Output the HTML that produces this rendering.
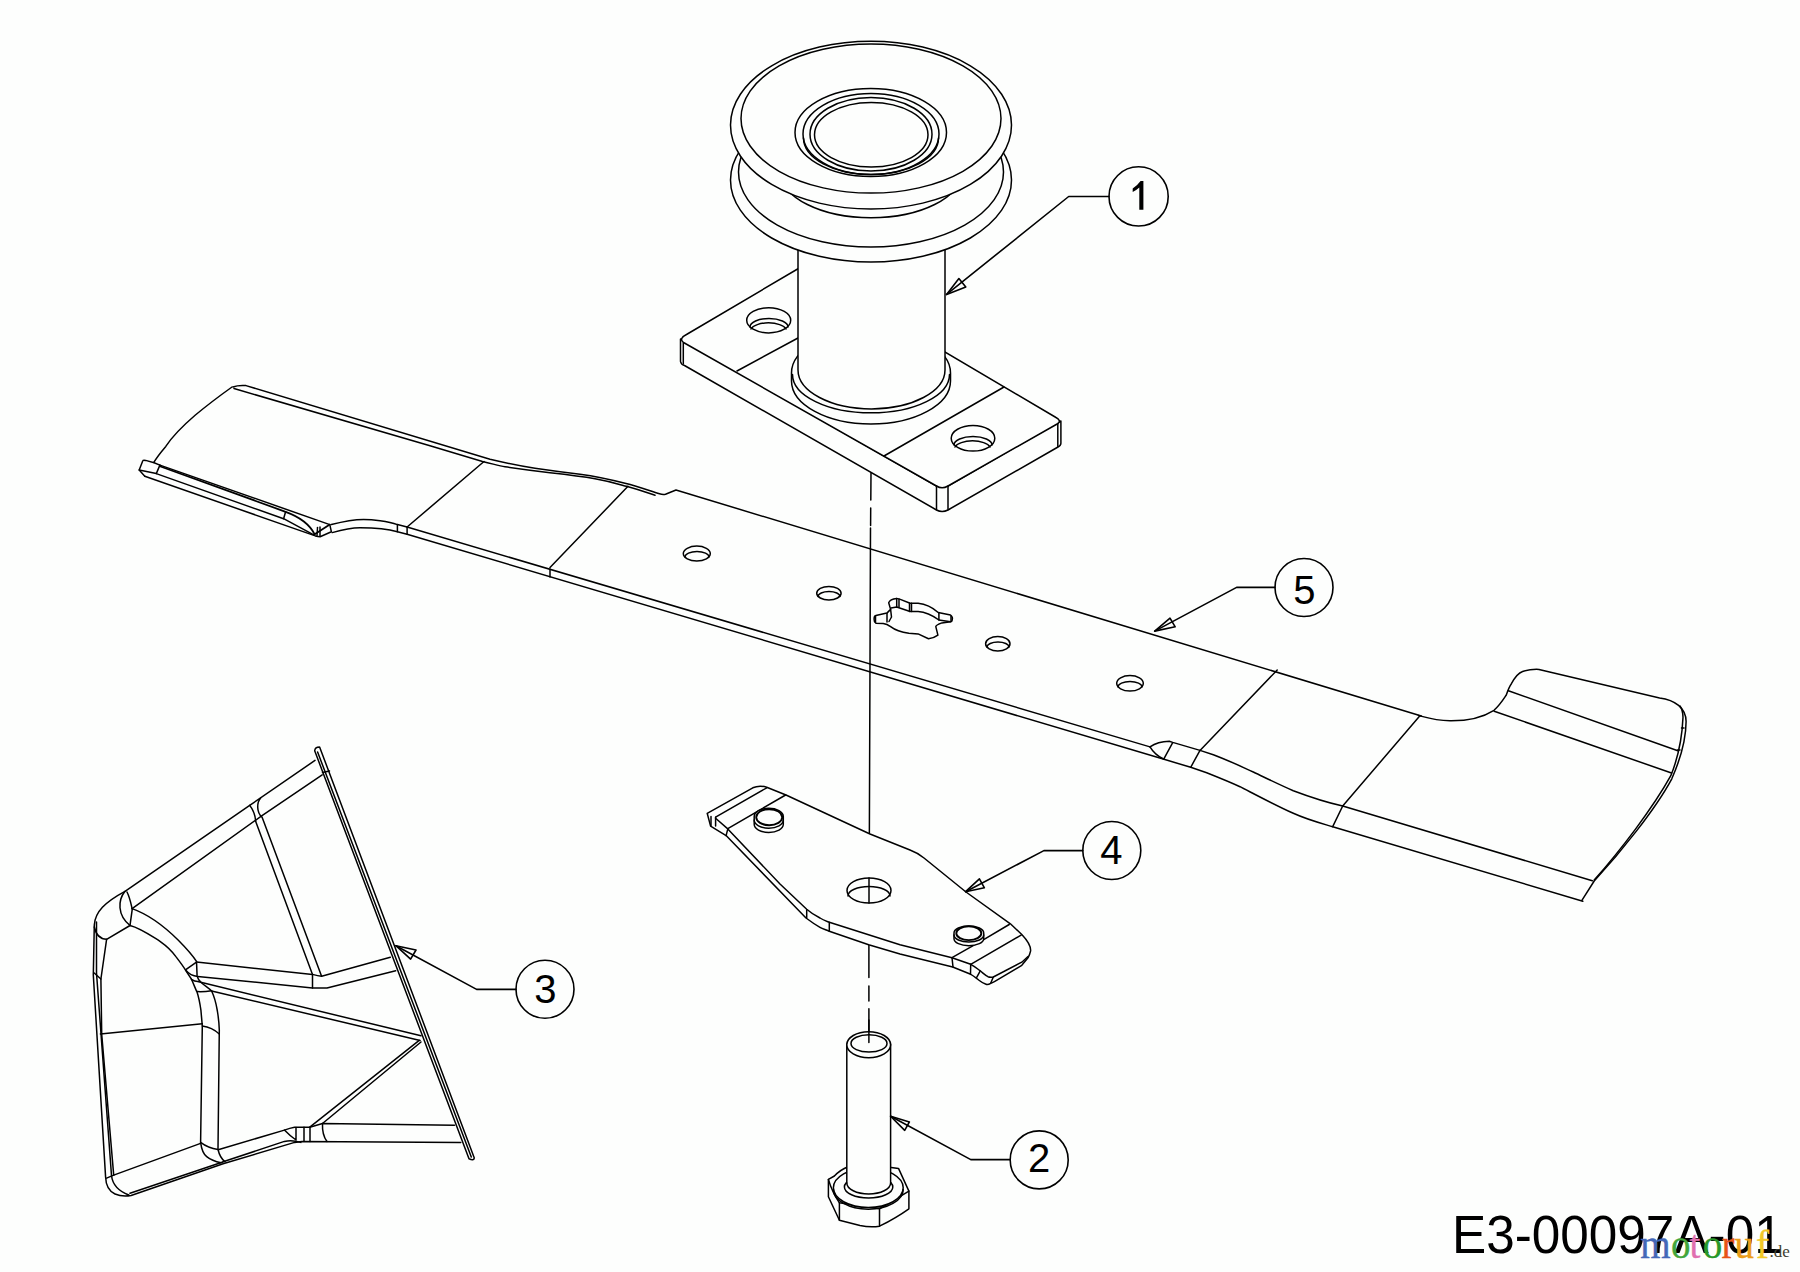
<!DOCTYPE html>
<html><head><meta charset="utf-8">
<style>
html,body{margin:0;padding:0;background:#fdfefd;width:1800px;height:1272px;overflow:hidden}
svg{position:absolute;left:0;top:0}
.t{font-family:"Liberation Sans",sans-serif;fill:#000}
.w{font-family:"Liberation Serif",serif}
</style></head><body>
<svg width="1800" height="1272" viewBox="0 0 1800 1272">
<g fill="none" stroke="#000" stroke-width="1.5" stroke-linejoin="round" stroke-linecap="round">


<!-- ============ PART 5: BLADE ============ -->
<g id="blade">
<!-- left end curve -->
<path d="M232,387 C218,397 205,407 195.1,415.3 C185,424 172,437 165.8,446.4 C161,452 157,457 153.8,462.4"/>
<!-- back edge (top line) -->
<path d="M233,387 Q238,385 246,385.6 L490,459.3 C510,464 520,466 535,468.3 C550,470.5 565,472.5 580,474.3 C600,477 612,480 625,483.3 C640,487 650,491 659.5,493.8 Q663,495 665.5,494.2 L676,490 L1421.3,716"/>
<!-- back edge second line -->
<path d="M234,388.5 L430,445.8 L482.5,461.5 C495,464.5 500,466 505,466.8 C520,469 535,471 550,472.8 C570,475 585,477 595,478.8 C610,481.5 618,484 626.5,486.3 C640,490 648,493 655,495.3"/>
<!-- tip -->
<path d="M159.9,465.1 L154.1,462.7 L145.7,460.4 Q143,460 142.8,460.7 L139.2,470 L144.8,476.2"/>
<path d="M139.2,470 L156.3,473.6 L283.6,518.7 L314.7,535.3"/>
<line x1="159.9" y1="465.1" x2="156.3" y2="473.6"/>
<!-- lip -->
<path d="M159.9,465.1 L329.8,524.6 L331.4,531.8 L320.1,536.7 Q318,536.5 315.3,535.9 L144.8,476.2"/>
<path d="M160.5,466.5 L285.6,511.8 C300,517 310,525 314.7,534.3 L329.8,524.6" stroke-width="1.8"/>
<line x1="285.6" y1="511.8" x2="283.6" y2="518.7"/>
<line x1="317.5" y1="527.5" x2="317" y2="535.5"/>
<line x1="320" y1="527" x2="320" y2="536"/>
<!-- notch -->
<path d="M331.4,524.6 C345,521 355,519.5 363.6,519.5 C372,519.5 388,521 397.4,524.6 L407.1,527 L1150,746.9"/>
<path d="M332.2,532.6 C345,529 352,527.8 360,527.8 C370,527.8 388,529 397.4,531.8 L407.1,534.2 L1164,759.3"/>
<line x1="397.4" y1="524.6" x2="397.4" y2="531.8"/>
<line x1="407.1" y1="527" x2="407.1" y2="534.2"/>
<!-- bend lines -->
<line x1="407.1" y1="527" x2="484" y2="461.5"/>
<line x1="550" y1="567.5" x2="628" y2="486.3"/>
<line x1="550" y1="569" x2="550" y2="577"/>
<line x1="1200" y1="750.4" x2="1277.2" y2="670"/>
<line x1="1342.7" y1="806" x2="1419.7" y2="716"/>
<!-- holes -->
<ellipse cx="696.8" cy="553.6" rx="13.5" ry="7.5"/>
<path d="M685,557 A12,5.5 0 0 1 709,557"/>
<ellipse cx="828.9" cy="593.2" rx="12.2" ry="6.8"/>
<path d="M818,596.5 A11,5 0 0 1 840,596.5"/>
<ellipse cx="997.8" cy="643.8" rx="12.2" ry="7.2"/>
<path d="M987,647 A11,5 0 0 1 1009,647"/>
<ellipse cx="1130" cy="683.3" rx="13.3" ry="7.8"/>
<path d="M1118,687 A12,5.5 0 0 1 1142,687"/>
<!-- star key hole -->
<path d="M874.1,619.2 Q874,616 875.9,615.6 L886.9,613.1 L890.6,609.4 L888.7,602.7 Q890,599 896.7,598.4 L900.3,599.4 L910.1,603.3 L918.1,603.3 C925,604 932,607 938.2,612.5 L950.5,615 Q953,617 952.3,619.2 Q952,622 950.5,621.7 L941.9,622.9 Q936,625 935.8,626.6 L937.9,635.1 Q934,638 928.5,638.8 L918.1,633.9 L908.9,633.3 C900,632 895,630 890.6,626.6 Q887,624 883.2,623.5 L875.9,623.2 Q874,622 874.1,619.2 Z"/>
<path d="M890.6,609.4 L891.5,617 L889,621.5 M891,608 L896.7,607 L910.1,611.5 L918.1,611.5 C925,612 932,615 938.9,620 L950.5,621.7"/>
<path d="M896.7,598.4 L896.7,607 M899,599 L899,607 M909.5,603.3 L909.5,611.5 M911.5,603.3 L911.5,611.5 M938.9,612.5 L938.9,620 M951,616 L951,621 M875.5,616 L875.5,622.5 M887,613.5 L887,622"/>
<!-- front edge after notch -->
<path d="M1150,746.9 C1155,743.5 1162,741.5 1169.3,741.3 L1172.7,742.4 L1200,750.4 L1213.3,754.7 C1230,761 1240,766 1253.3,772 C1268,779 1280,785 1293.3,790.7 C1310,797 1325,802 1342.7,806 L1592.3,880.7"/>
<path d="M1150,746.9 C1153,752 1157,756 1164,759.3"/>
<line x1="1172.7" y1="742.7" x2="1164" y2="758.7"/>
<path d="M1164,759.3 L1190.7,767.3 L1206.7,772.7 C1220,778 1230,782 1240,786.7 C1260,797 1275,805 1293.3,813.3 C1308,820 1320,823 1332.7,826.7 L1582.8,901.2"/>
<line x1="1200" y1="750.4" x2="1190.7" y2="767.3"/>
<line x1="1342.7" y1="806" x2="1332.7" y2="826.7"/>
<!-- right wing -->
<path d="M1418.4,715.4 C1428,718 1435,720.5 1450,720.8 C1470,721 1485,716 1494,710.3 C1500,705 1503,700 1506.3,695 C1508,690 1509,687 1511.4,683.7 C1515,677 1518,673 1522.6,671.5 Q1530,669 1539,669.4 L1659.6,698 C1675,700 1686,708 1686.1,721.5 C1686,740 1680,760 1671.8,778.8 C1655,810 1620,853 1594.2,881 L1581.9,900.3"/>
<path d="M1594.2,880 C1620,851 1653,808 1670.8,775.7 C1678,758 1682,740 1683,717.4 C1683,712 1682,709 1680,706"/>
<line x1="1684" y1="728" x2="1681.5" y2="728"/>
<line x1="1680" y1="750" x2="1677.5" y2="750"/>
<line x1="1494.2" y1="711.2" x2="1671.5" y2="773"/>
<line x1="1508.4" y1="690.7" x2="1677.8" y2="750.8"/>
</g>

<!-- ============ PART 1: PULLEY / SPINDLE ============ -->
<g id="pulley">
<!-- plate side faces -->
<path fill="#fdfefd" d="M680.5,339 L680.5,361.5 Q681,364.5 684.5,365.5 L936.5,510 Q942,513 948,510 L1058,447 Q1061,445.5 1060.9,443 L1060.9,421 L948,486 L936.5,486 Z"/>
<!-- plate top face -->
<path fill="#fdfefd" d="M686.5,334.5 L801,267 L1056,417.5 Q1061.5,420.5 1058,423.5 L948,486 Q942,489.5 936.5,486 L683.5,342.5 Q678.5,338.5 686.5,334.5 Z"/>
<line x1="683.3" y1="342.7" x2="683.3" y2="364"/>
<line x1="936.5" y1="486" x2="936.5" y2="509.5"/>
<line x1="948" y1="486" x2="948" y2="509.5"/>
<line x1="1057.8" y1="423.5" x2="1057.8" y2="446.5"/>
<!-- seam lines on plate -->
<line x1="737" y1="371" x2="798" y2="338"/>
<line x1="884" y1="456" x2="1004" y2="387"/>
<!-- holes -->
<ellipse cx="768.7" cy="320.3" rx="22" ry="12.6"/>
<path d="M750,327 A19,8.5 0 0 1 788,327"/>
<path d="M751,329 A18,8 0 0 1 786,329"/>
<ellipse cx="973" cy="438.3" rx="21.8" ry="12.8"/>
<path d="M954,445 A19,8.5 0 0 1 992,445"/>
<path d="M955,447 A18,8 0 0 1 990,447"/>
<!-- collar -->
<path fill="#fdfefd" d="M791.5,373 A79.5,43 0 0 1 950.5,373 L950.5,381 A79.5,43 0 0 1 791.5,381 Z"/>
<path d="M792.5,374.4 A78.5,38.4 0 0 0 949.5,374.4"/>
<!-- hub cylinder -->
<path fill="#fdfefd" stroke="none" d="M798,230 L945,230 L945,370 A73.5,38.9 0 0 1 798,370 Z"/>
<path d="M798,240 L798,370 A73.5,38.9 0 0 0 945,370 L945,240"/>
<!-- lower flange -->
<ellipse fill="#fdfefd" cx="871" cy="180" rx="140.5" ry="82"/>
<ellipse cx="871" cy="172" rx="132.5" ry="75"/>
<!-- groove hub -->
<ellipse fill="#fdfefd" cx="871" cy="172.7" rx="90" ry="45"/>
<!-- top flange silhouette -->
<ellipse fill="#fdfefd" cx="871" cy="125.1" rx="140.5" ry="83.9"/>
<ellipse cx="871" cy="118.6" rx="130" ry="74.5"/>
<!-- bearing rings -->
<ellipse cx="870.75" cy="132.5" rx="75.75" ry="44"/>
<ellipse cx="871" cy="134" rx="68" ry="40.5"/>
<path d="M803.5,138 A67.5,36.5 0 0 0 938.5,138"/>
<ellipse cx="871" cy="134.25" rx="61" ry="36.75"/>
<ellipse cx="871.25" cy="134.75" rx="56.75" ry="32.25"/>
</g>


<!-- ============ DASHED CENTER LINE ============ -->
<g id="center">
<path d="M871,473 L870.8,500 M870.7,508 L870.6,525.5 M870.5,528 L869.3,850.2 M869.2,855.8 L869.1,868.1 M869,874.7 L869,903 M868.9,944.5 L868.9,977.5 M868.9,986 L868.9,1001 M868.9,1008.7 L868.9,1042.6" stroke-width="1.5"/>
</g>

<!-- ============ PART 4: ADAPTER ============ -->
<g id="adapter">
<path fill="#fdfefd" d="M707.2,813.3 L752.8,787.8 Q759,785 766.7,787.2 L786,795 L870,834 L910,850 Q918,853 924,858 L966,892 L1010.4,923.8 L1021.8,934.5 C1027,940 1031,946 1030.6,950.9 C1030,954 1029,956 1028,957.8 L1021.8,965.3 L995.3,981.1 Q992,983 990.7,983.3 Q988,985 986,984.3 C982,983 980,981 978.7,980 C975,977 973,975.5 970.7,974.3 L952.7,967 L900,954 L868.7,944.7 L829.3,931.3 C825,929.5 822,928.5 820,927.3 C814,924 810,921 806,918 L726.1,835.6 L710.6,826.1 Z"/>
<path d="M715.6,817.2 L766.7,787.8"/>
<path d="M727.8,828.6 L785.6,795"/>
<path d="M715.6,818.3 L727.8,828.9 L780,884 L806.7,909.3 C812,914 816,916 820,918 C823,920 826,921 829.3,922.3 L900,944.7 L952,957.7 L970.7,964.3 C975,966.5 977,968.5 980,970.7 C983,973 985,975 988,976.7 Q990,977.5 993.3,977 L1021.8,962.2 L1028,956.5"/>
<path d="M952,957.7 L982,940.7 L1009.2,924.5"/>
<path d="M970.7,964.3 L1021.1,935.2"/>
<path d="M715.6,817.2 L715.6,826.1 M711,816.5 L711,825.5 M727.8,828.9 L726.1,835.6 M806.7,909.7 L806.7,917.7 M829.3,922.3 L829.3,931.3 M952,957.7 L953,967 M970.7,964.3 L970.5,974 M980,971.3 L976.7,977.3 M993.3,977 L990.7,983.3"/>
<!-- pins -->
<path fill="#fdfefd" d="M754.2,816.5 A14.55,8.2 0 0 1 783.3,816.5 L783.3,824.3 A14.55,8.2 0 0 1 754.2,824.3 Z"/>
<path d="M754.2,820 A14.55,8.2 0 0 0 783.3,820"/>
<ellipse cx="769.2" cy="817.2" rx="13" ry="8" stroke-width="1.9"/>
<path fill="#fdfefd" d="M954,933 A14.85,7 0 0 1 983.7,933 L983.7,938.7 A14.85,7 0 0 1 954,938.7 Z"/>
<path d="M954,935 A14.85,7 0 0 0 983.7,935"/>
<ellipse cx="968.8" cy="933.2" rx="12.5" ry="6.9" stroke-width="1.9"/>
<!-- hole -->
<ellipse cx="869" cy="890.5" rx="22" ry="12.5"/>
<path d="M848,896 A21,9.5 0 0 1 890,896"/>
<line x1="869" y1="878" x2="869" y2="903" stroke-width="1.5"/>
</g>

<!-- ============ PART 2: BOLT ============ -->
<g id="bolt">
<!-- hex head -->
<path fill="#fdfefd" d="M828.4,1179.4 L834.4,1176 Q840,1170 847.4,1167 L891.2,1167.4 L898.5,1168.4 L908.9,1191.1 L908.9,1208.8 Q896,1218 879.5,1226.2 Q870,1227.5 860,1225.5 L839.4,1220.2 L828.4,1196.8 Z"/>
<path d="M828.4,1179.4 Q832,1192 839.4,1202.8 L879.5,1208.8 L908.9,1191.1"/>
<line x1="839.4" y1="1202.8" x2="839.4" y2="1220.2"/>
<line x1="879.5" y1="1208.8" x2="879.5" y2="1226.2"/>
<!-- washer face -->
<ellipse fill="#fdfefd" cx="868.3" cy="1187.8" rx="34.9" ry="19.7"/>
<path d="M833.4,1189.5 A34.9,19.7 0 0 0 903.2,1189.5"/>
<ellipse fill="#fdfefd" cx="868.6" cy="1187" rx="24.2" ry="11"/>
<!-- shank -->
<path fill="#fdfefd" d="M846.8,1044 L890.6,1044 L890.6,1183 L846.8,1183 Z" stroke="none"/>
<path d="M846.8,1044 L846.8,1183 M890.6,1044 L890.6,1183"/>
<path d="M846.8,1183 A21.9,11 0 0 0 890.6,1183"/>
<ellipse fill="#fdfefd" cx="868.7" cy="1044.7" rx="21.9" ry="13"/>
<ellipse cx="869" cy="1043.4" rx="18" ry="8.7"/>
<line x1="868.9" y1="1020" x2="868.9" y2="1042.6" stroke-width="1.5"/>
</g>

<!-- ============ PART 3: CHUTE ============ -->
<g id="chute">
<!-- flange strip -->
<path d="M314.7,750.8 Q315,747 319.6,747 L474.3,1157.9 Q474,1161 469,1158.8 Z"/>
<path d="M317.6,752 L471.3,1157"/>
<path d="M322.5,772.5 L329.5,771"/>
<!-- top edges -->
<path d="M315,760.4 L249.7,805.4 L125,891.3 C105,902 95,912 94.3,925 L93.3,975 L105.6,1177.1 Q106,1190 115,1194 Q122,1197 131.1,1195.5 L223.1,1163.8 L294.6,1142.4 L301.8,1141.6 L460.8,1142.5"/>
<path d="M322.2,774.8 L262,815.6 L132.1,908.6"/>
<!-- corner -->
<path d="M125,891.3 C118,900 117,915 130,925.5"/>
<path d="M127,892 C130,898 131,904 132.1,908.6"/>
<path d="M94.3,927 C96,935 100,939 106.6,939.3 L130,925.5"/>
<path d="M106.6,939.3 L100.9,979 L101.7,1034.3 L113.7,1175.1"/>
<path d="M94.2,973 L100.9,979"/>
<path d="M96.5,922 L96.5,973 L111.5,1175.5 Q113,1189 128.8,1195"/>
<path d="M130,1193.3 L222.8,1162"/>
<path d="M132.3,908.8 L130,925.3"/>
<!-- arch -->
<path d="M132.1,908.6 C150,915 165,927 178.1,940 C188,950 193,956 196.5,961.4 L197.1,975.9 C198,979 199,981 200.9,982.2 C205,986 209,988 211.6,991 C214,996 216,1003 217.2,1010 C218,1015 219,1020 219.3,1030 L218,1149.5 Q220,1158 225.1,1161.8"/>
<path d="M130,925.5 C140,928 150,935 160,941.3 C168,947 172,951 175.7,956.4 C180,962 183,966 185.2,969.6 C188,974 190,977 191.4,979 C194,985 196,990 197.1,992.3 C199,998 200,1004 200.9,1010 L202.3,1025.9 L200.6,1142.4 Q202,1153 206.7,1156.7 Q212,1161 221,1162.8"/>
<path d="M202.3,1025.9 Q212,1027 219.3,1034"/>
<path d="M200.6,1142.4 Q208,1148 218,1149.5"/>
<path d="M185.8,969.6 L196.5,962.1"/>
<path d="M197.1,991.6 Q204,992 211.6,990.7"/>
<!-- inner horizontal -->
<line x1="100.4" y1="1034" x2="202.3" y2="1023.8"/>
<line x1="113.7" y1="1175.1" x2="200.6" y2="1143.4"/>
<line x1="106.6" y1="1178.1" x2="113.7" y2="1175.1"/>
<!-- rib 1 -->
<path d="M249.7,805.4 Q255,812 255.8,821.8 L312.5,974.4"/>
<path d="M260.5,798.2 C257,802 256,812 262.2,817.4 L321.6,976.2"/>
<!-- rib 2 -->
<path d="M196.5,962.1 L312.5,974.4 Q318,976 321.6,976.2 L390.3,957.2"/>
<path d="M185.8,970.3 C188,973 192,976 197.7,976.5 L312.5,987.9 L327,987.9 L395.7,970.7"/>
<line x1="312.5" y1="974.4" x2="312.5" y2="987.9"/>
<!-- rib 3 -->
<path d="M191.4,979.5 C194,981 195,981.5 197.7,981.6 L421,1035.8"/>
<path d="M211.6,991 L420.1,1040.4"/>
<!-- rib 4 -->
<path d="M419.2,1040.4 L309.8,1127.2"/>
<path d="M421,1042 L322.5,1123.5"/>
<!-- bottom rib -->
<path d="M219,1149.5 L284.4,1130.1 Q290,1128 294.5,1127.2 L309.8,1127.2 L322.5,1123.5 L454.5,1125.3"/>
<path d="M223.1,1161.8 L284.4,1141.4 Q292,1139.5 300.8,1142.4"/>
<path d="M284.4,1130.1 Q290,1136 296,1140 M296,1127.5 L296,1140 M304,1127.2 L304,1141 M310,1127.2 L310,1141.5 M322.5,1123.5 Q322,1135 327,1141.5"/>
</g>

<!-- ============ CALLOUTS ============ -->
<g id="callouts" stroke-width="1.6">
<circle cx="1138.6" cy="196.4" r="29.6"/>
<path d="M1109,196.5 L1068.7,196.5 L946.6,294.4"/>
<path d="M946.6,294.4 L958.9,278.6 L965.8,286.9 Z"/>

<circle cx="1039.2" cy="1159.9" r="29"/>
<path d="M1010.2,1159.6 L970.8,1159.6 L890.6,1116.2"/>
<path d="M890.6,1116.2 L909.4,1121.9 L904.7,1130.4 Z"/>

<circle cx="545" cy="989.3" r="29"/>
<path d="M516,989.4 L476.6,989.4 L395.9,945.7"/>
<path d="M395.9,945.7 L416,950 L410.6,959.1 Z"/>

<circle cx="1111.8" cy="850.5" r="29"/>
<path d="M1082.8,850.6 L1043.9,850.6 L965.6,891.7"/>
<path d="M965.6,891.7 L979.4,878.9 L984.4,887.8 Z"/>

<circle cx="1304" cy="587.5" r="29"/>
<path d="M1275,587.4 L1236.6,587.4 L1154.7,631.1"/>
<path d="M1154.7,631.1 L1170,618.2 L1175.2,626.8 Z"/>
</g>
</g>

<path d="M1139.3,209.7 L1143.4,209.7 L1143.4,181.1 L1140.6,181.1 Q1137.5,185.5 1132.7,188.4 L1132.7,192 Q1136.6,190.2 1139.3,187.6 Z" fill="#000"/>
<g class="t" font-size="40">
<text x="1039" y="1171.9" text-anchor="middle">2</text>
<text x="545.3" y="1002.5" text-anchor="middle">3</text>
<text x="1111.3" y="864.4" text-anchor="middle">4</text>
<text x="1304.3" y="604.2" text-anchor="middle">5</text>
</g>
<text id="code" class="t" x="1452" y="1252.5" font-size="53.3" textLength="330.7" lengthAdjust="spacingAndGlyphs">E3-00097A-01</text>
<g class="w" font-size="39">
<text x="1640.3" y="1257.8" fill="#4468b8" stroke="#4468b8" stroke-width="0.35">m</text>
<text x="1671" y="1257.8" fill="#42a63c" stroke="#42a63c" stroke-width="0.35">o</text>
<text x="1689.5" y="1257.8" fill="#e070b0" stroke="#e070b0" stroke-width="0.35">t</text>
<text x="1702.7" y="1257.8" fill="#28982a" stroke="#28982a" stroke-width="0.35">o</text>
<text x="1721.5" y="1257.8" fill="#e85418" stroke="#e85418" stroke-width="0.35">r</text>
<text x="1734.5" y="1257.8" fill="#eb9c18" stroke="#eb9c18" stroke-width="0.35">u</text>
<text x="1756" y="1257.8" fill="#f2c828" stroke="#f2c828" stroke-width="0.35">f</text>
<text x="1769.5" y="1257" fill="#404030" font-size="17">.de</text>
</g>
</svg>
</body></html>
